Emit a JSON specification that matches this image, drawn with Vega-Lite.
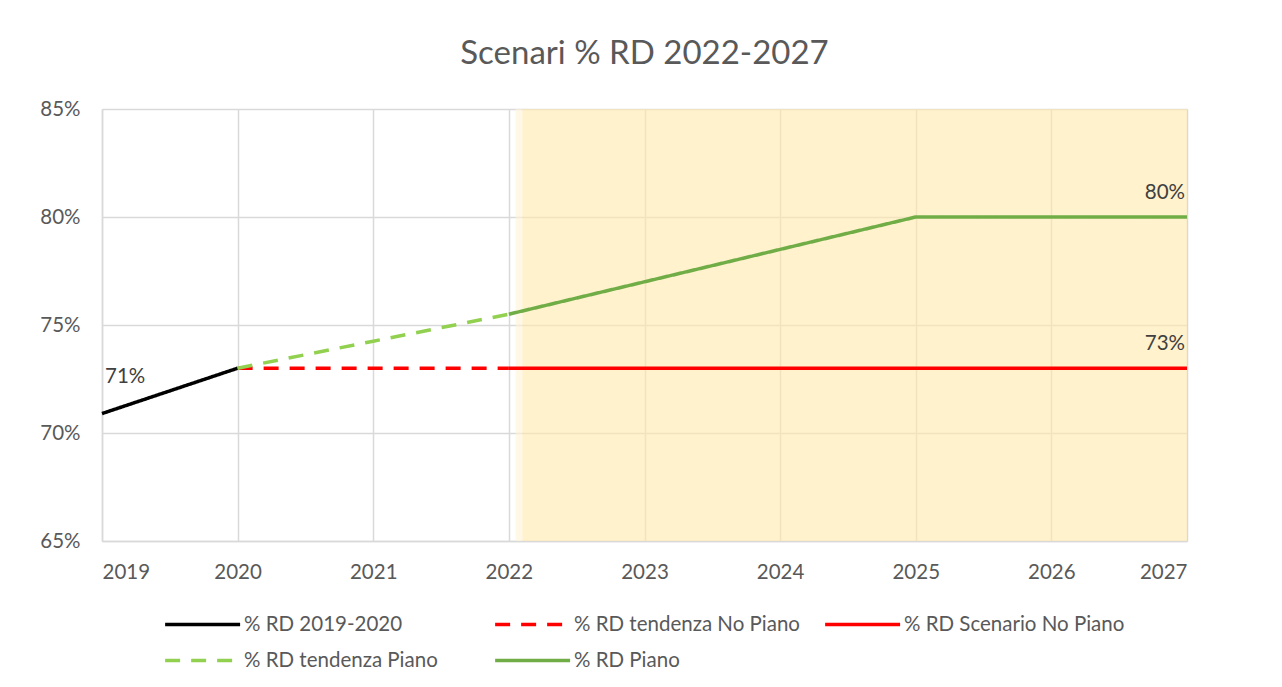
{
  "$schema": "https://vega.github.io/schema/vega-lite/v6.json",
  "width": 1085,
  "height": 432,
  "autosize": "none",
  "padding": {"left": 102, "top": 109, "right": 95, "bottom": 146},
  "background": "white",
  "config": {
    "font": "Lato",
    "view": {"stroke": null},
    "axis": {"labelFont": "Lato", "labelFontSize": 20.5, "labelColor": "#595959", "gridColor": "#D9D9D9", "gridWidth": 1.5, "domainColor": "#D9D9D9", "domainWidth": 1.5, "ticks": false, "title": null}
  },
  "title": {"text": "Scenari % RD 2022-2027", "fontSize": 33, "font": "Lato", "fontWeight": "normal", "color": "#595959", "anchor": "middle", "baseline": "alphabetic", "offset": 2},
  "datasets": {
    "shade": [
      {"x0": 2022.05, "x1": 2022.1, "kind": "edge"},
      {"x0": 2022.1, "x1": 2027, "kind": "main"}
    ],
    "lines": [
      {"serie": "% RD 2019-2020", "year": 2019, "rd": 0.709},
      {"serie": "% RD 2019-2020", "year": 2020, "rd": 0.73},
      {"serie": "% RD tendenza No Piano", "year": 2020, "rd": 0.73},
      {"serie": "% RD tendenza No Piano", "year": 2021, "rd": 0.73},
      {"serie": "% RD tendenza No Piano", "year": 2022, "rd": 0.73},
      {"serie": "% RD Scenario No Piano", "year": 2022, "rd": 0.73},
      {"serie": "% RD Scenario No Piano", "year": 2023, "rd": 0.73},
      {"serie": "% RD Scenario No Piano", "year": 2024, "rd": 0.73},
      {"serie": "% RD Scenario No Piano", "year": 2025, "rd": 0.73},
      {"serie": "% RD Scenario No Piano", "year": 2026, "rd": 0.73},
      {"serie": "% RD Scenario No Piano", "year": 2027, "rd": 0.73},
      {"serie": "% RD tendenza Piano", "year": 2020, "rd": 0.73},
      {"serie": "% RD tendenza Piano", "year": 2021, "rd": 0.7425},
      {"serie": "% RD tendenza Piano", "year": 2022, "rd": 0.755},
      {"serie": "% RD Piano", "year": 2022, "rd": 0.755},
      {"serie": "% RD Piano", "year": 2023, "rd": 0.77},
      {"serie": "% RD Piano", "year": 2024, "rd": 0.785},
      {"serie": "% RD Piano", "year": 2025, "rd": 0.80},
      {"serie": "% RD Piano", "year": 2026, "rd": 0.80},
      {"serie": "% RD Piano", "year": 2027, "rd": 0.80}
    ],
    "labelsLeft": [
      {"year": 2019, "rd": 0.709, "label": "71%"}
    ],
    "labelsRight": [
      {"year": 2027, "rd": 0.80, "label": "80%"},
      {"year": 2027, "rd": 0.73, "label": "73%"}
    ]
  },
  "layer": [
    {
      "data": {"name": "shade"},
      "mark": {"type": "rect"},
      "encoding": {
        "x": {"field": "x0", "type": "quantitative", "scale": {"domain": [2019, 2027], "nice": false, "zero": false}},
        "x2": {"field": "x1"},
        "color": {"field": "kind", "type": "nominal", "scale": {"domain": ["edge", "main"], "range": ["#FFF3D6", "#FFE9AA"]}, "legend": null},
        "opacity": {"value": 0.6}
      }
    },
    {
      "data": {"name": "lines"},
      "mark": {"type": "line", "strokeWidth": 3.5, "strokeCap": "butt"},
      "encoding": {
        "x": {"field": "year", "type": "quantitative", "scale": {"domain": [2019, 2027], "nice": false, "zero": false},
              "axis": {"values": [2019, 2020, 2021, 2022, 2023, 2024, 2025, 2026, 2027], "format": "d", "labelPadding": 21, "grid": true, "domain": true}},
        "y": {"field": "rd", "type": "quantitative", "scale": {"domain": [0.65, 0.85], "nice": false, "zero": false},
              "axis": {"values": [0.65, 0.70, 0.75, 0.80, 0.85], "format": ".0%", "labelPadding": 22, "grid": true, "domain": true}},
        "detail": {"field": "serie"},
        "stroke": {"field": "serie", "type": "nominal",
          "scale": {"domain": ["% RD 2019-2020", "% RD tendenza No Piano", "% RD Scenario No Piano", "% RD tendenza Piano", "% RD Piano"],
                    "range": ["#000000", "#FF0000", "#FF0000", "#92D050", "#70AD47"]},
          "legend": {"title": null, "orient": "none", "legendX": 61, "legendY": 504, "direction": "horizontal", "columns": 3, "gridAlign": "all",
                     "symbolType": "M-1,0H7", "symbolSize": 351.5, "symbolStrokeWidth": 3.5, "labelFontSize": 20.5, "labelFont": "Lato", "labelColor": "#595959",
                     "labelOffset": 58, "columnPadding": 18, "rowPadding": 14, "labelLimit": 400}},
        "strokeDash": {"field": "serie", "type": "nominal",
          "scale": {"domain": ["% RD 2019-2020", "% RD tendenza No Piano", "% RD Scenario No Piano", "% RD tendenza Piano", "% RD Piano"],
                    "range": [[1, 0], [15, 11], [1, 0], [15, 11], [1, 0]]}}
      }
    },
    {
      "data": {"name": "labelsLeft"},
      "mark": {"type": "text", "align": "left", "baseline": "middle", "dx": 3, "dy": -37, "fontSize": 20.5, "font": "Lato", "color": "#404040"},
      "encoding": {
        "x": {"field": "year", "type": "quantitative"},
        "y": {"field": "rd", "type": "quantitative"},
        "text": {"field": "label"}
      }
    },
    {
      "data": {"name": "labelsRight"},
      "mark": {"type": "text", "align": "right", "baseline": "middle", "dx": -2, "dy": -24, "fontSize": 20.5, "font": "Lato", "color": "#404040"},
      "encoding": {
        "x": {"field": "year", "type": "quantitative"},
        "y": {"field": "rd", "type": "quantitative"},
        "text": {"field": "label"}
      }
    }
  ]
}
